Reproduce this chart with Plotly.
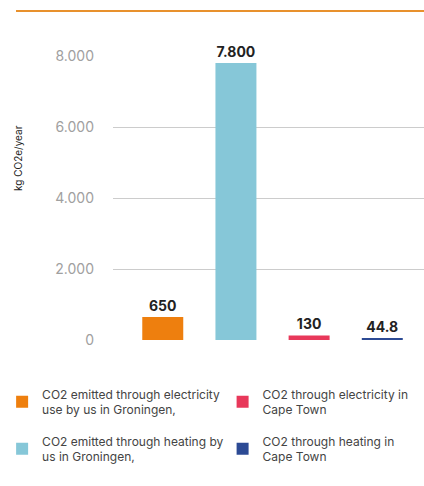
import plotly.graph_objects as go

categories = ["elec_gron", "heat_gron", "elec_cape", "heat_cape"]
values = [650, 7800, 130, 44.8]
value_labels = ["650", "7.800", "130", "44.8"]
legend_names = [
    "CO2 emitted through electricity<br>use by us in Groningen,",
    "CO2 emitted through heating by<br>us in Groningen,",
    "CO2 through electricity in<br>Cape Town",
    "CO2 through heating in<br>Cape Town",
]
colors = ["#EE7F0E", "#86C7D8", "#E8385A", "#2C4A94"]
legend_ids = ["legend", "legend", "legend2", "legend2"]
y_ticks = [0, 2000, 4000, 6000, 8000]
y_ticklabels = ["0", "2.000", "4.000", "6.000", "8.000"]

fig = go.Figure()
for i in range(len(categories)):
    fig.add_trace(go.Bar(
        x=[categories[i]], y=[values[i]],
        name=legend_names[i],
        legend=legend_ids[i],
        legendgroup=categories[i],
        marker=dict(color=colors[i], line=dict(width=0)),
        width=0.56,
        text=[value_labels[i]], textposition="outside",
        textfont=dict(family="Inter", size=14, color="#222222", weight="bold"),
        cliponaxis=False,
    ))

W, H = 424, 486
L, R, T, B = 113, 0, 56, 146
pw = W - L - R
ph = H - T - B

legend_style = dict(
    orientation="v", xref="container", yref="container",
    y=0.219, xanchor="left", yanchor="top",
    font=dict(family="Inter", size=12, color="#444444"),
    itemwidth=30, tracegroupgap=13, bgcolor="rgba(0,0,0,0)",
)

fig.update_layout(
    width=W, height=H,
    margin=dict(l=L, r=R, t=T, b=B, autoexpand=False),
    paper_bgcolor="white", plot_bgcolor="white",
    font=dict(family="Inter", color="#444444"),
    bargap=0.44,
    showlegend=True,
    legend=dict(x=0.005, **legend_style),
    legend2=dict(x=0.525, **legend_style),
    xaxis=dict(
        categoryorder="array", categoryarray=categories,
        range=[-0.68, 3.57], showticklabels=False, showgrid=False,
        zeroline=False, showline=False, ticks="",
    ),
    yaxis=dict(
        range=[0, 8000], tickvals=y_ticks, ticktext=y_ticklabels,
        showgrid=True, gridcolor="#CCCCCC", gridwidth=1,
        zeroline=False, showline=False, ticks="",
        tickfont=dict(family="Inter", size=14, color="#A0A0A0"),
        ticklabelstandoff=18,
    ),
    annotations=[dict(
        text="kg CO2e/year", textangle=-90, showarrow=False,
        xref="paper", yref="paper",
        x=(18 - L) / pw, y=(H - B - 158) / ph,
        xanchor="center", yanchor="middle",
        font=dict(family="Inter", size=10, color="#222222"),
    )],
    shapes=[dict(
        type="line", xref="paper", yref="paper",
        x0=(16 - L) / pw, x1=1.0,
        y0=(H - B - 11) / ph, y1=(H - B - 11) / ph,
        line=dict(color="#E8912D", width=2),
    )],
)

fig.write_html("out.html")
